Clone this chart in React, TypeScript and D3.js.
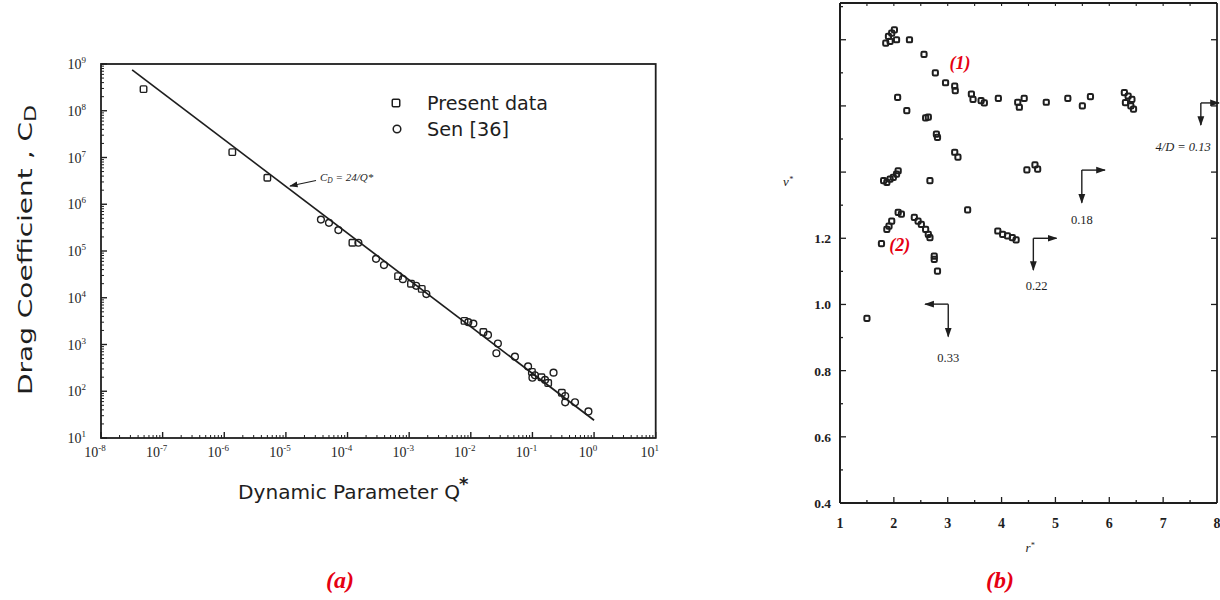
import React from "react";
import * as d3 from "d3";

// ---------- Panel (a) data ----------
const presentQ = [4.9e-8, 1.35e-6, 5.0e-6, 1.2e-4, 6.6e-4, 1.07e-3, 1.6e-3, 7.9e-3, 1.6e-2, 9.8e-2, 0.14, 0.18, 0.30];
const presentCD = [2.9e8, 1.3e7, 3.7e6, 1.5e5, 2.9e4, 2.0e4, 1.55e4, 3.2e3, 1.85e3, 2.6e2, 2.0e2, 1.5e2, 93];
const senQ = [3.7e-5, 5.0e-5, 7.1e-5, 1.5e-4, 2.9e-4, 3.9e-4, 7.9e-4, 1.3e-3, 1.9e-3, 9.1e-3, 1.1e-2, 1.9e-2, 2.75e-2, 2.6e-2, 5.2e-2, 8.5e-2, 0.11, 0.10, 0.16, 0.22, 0.34, 0.34, 0.49, 0.81];
const senCD = [4.7e5, 4.0e5, 2.8e5, 1.5e5, 6.8e4, 5.0e4, 2.5e4, 1.8e4, 1.2e4, 3.0e3, 2.8e3, 1.6e3, 1.05e3, 6.5e2, 5.5e2, 3.4e2, 2.2e2, 1.95e2, 1.75e2, 2.5e2, 79, 58, 58, 37];
const fitQRange = [3.2e-8, 1.0]; // C_D = 24/Q*
const xTickExpA = [-8, -7, -6, -5, -4, -3, -2, -1, 0, 1];
const yTickExpA = [1, 2, 3, 4, 5, 6, 7, 8, 9];

// ---------- Panel (b) data ----------
const s1R = [1.85, 1.90, 1.96, 2.01, 2.05, 1.93, 2.29, 2.56, 2.77, 2.96, 3.13, 3.14, 3.44, 3.47, 3.62, 3.68, 3.94, 4.30, 4.33, 4.42, 4.83, 5.23, 5.50, 5.65, 6.28, 6.35, 6.42, 6.30, 6.40, 6.45];
const s1V = [1.79, 1.81, 1.82, 1.83, 1.80, 1.795, 1.80, 1.756, 1.70, 1.67, 1.66, 1.646, 1.636, 1.62, 1.616, 1.609, 1.623, 1.611, 1.596, 1.623, 1.611, 1.623, 1.60, 1.628, 1.64, 1.63, 1.62, 1.61, 1.60, 1.59];
const s018R = [2.07, 2.24, 2.59, 2.64, 2.79, 2.81, 3.13, 3.19, 4.47, 4.62, 4.67];
const s018V = [1.626, 1.586, 1.564, 1.566, 1.515, 1.505, 1.46, 1.445, 1.407, 1.422, 1.409];
const s022R = [1.81, 1.87, 1.93, 1.99, 2.05, 2.08, 2.67, 3.37, 3.93, 4.02, 4.11, 4.20, 4.27];
const s022V = [1.374, 1.369, 1.379, 1.384, 1.394, 1.404, 1.374, 1.286, 1.222, 1.212, 1.207, 1.202, 1.195];
const s033R = [1.77, 1.87, 1.91, 1.96, 2.08, 2.14, 2.38, 2.45, 2.51, 2.59, 2.64, 2.67, 2.75, 2.75, 2.81, 1.50];
const s033V = [1.184, 1.227, 1.237, 1.252, 1.278, 1.273, 1.263, 1.252, 1.242, 1.227, 1.212, 1.202, 1.146, 1.136, 1.101, 0.958];
const xTicksB = [1, 2, 3, 4, 5, 6, 7, 8];
const yTickLabelsB = [0.4, 0.6, 0.8, 1.0, 1.2];
// arrows: [cornerR, cornerV, hEndR, vEndV, labelR, labelV, label]
const arrowsB: [number, number, number, number, number, number, string][] = [
  [7.70, 1.609, 8.06, 1.542, 7.37, 1.476, "4/D = 0.13"],
  [5.49, 1.406, 5.92, 1.307, 5.49, 1.255, "0.18"],
  [4.59, 1.20, 5.02, 1.104, 4.65, 1.056, "0.22"],
  [3.01, 1.001, 2.58, 0.903, 3.01, 0.838, "0.33"],
];

const INK = "#1e1e1e";
const RED = "#e60012";

function Sq({ x, y, s = 6.5, sw = 1.4 }: { x: number; y: number; s?: number; sw?: number }) {
  return <rect x={x - s / 2} y={y - s / 2} width={s} height={s} rx={1.2} fill="none" stroke={INK} strokeWidth={sw} />;
}

export default function App() {
  const xA = d3.scaleLog().domain([1e-8, 1e1]).range([101, 655.7]);
  const yA = d3.scaleLog().domain([1e1, 1e9]).range([438, 64]);
  const xB = d3.scaleLinear().domain([1, 8]).range([840, 1217]);
  const yB = d3.scaleLinear().domain([0.4, 1.911]).range([503, 3]);

  const fitLine = d3.line<number>().x((q) => xA(q)).y((q) => yA(24 / q));

  const minorA: number[] = [];
  for (let e = -8; e < 1; e++) for (let k = 2; k <= 9; k++) minorA.push(k * Math.pow(10, e));
  const minorAY: number[] = [];
  for (let e = 1; e < 9; e++) for (let k = 2; k <= 9; k++) minorAY.push(k * Math.pow(10, e));

  const yMinorB = d3.range(4, 20).map((v) => v / 10);
  const xMinorB = d3.range(2, 16).map((v) => v / 2);

  const sansFont = "'Liberation Sans Narrow', 'DejaVu Sans', sans-serif";
  const serif = "'Liberation Serif', 'DejaVu Serif', serif";

  return (
    <svg width={1220} height={600} style={{ position: "absolute", left: 0, top: 0, background: "#fff" }}>
      <defs>
        <marker id="ah" viewBox="0 0 10 10" refX="9" refY="5" markerWidth="7" markerHeight="7" orient="auto-start-reverse">
          <path d="M0,1.5 L10,5 L0,8.5 z" fill={INK} />
        </marker>
      </defs>
      {/* ================= Panel (a) ================= */}
      <g>
        <rect x={101} y={64} width={655.7 - 101} height={438 - 64} fill="none" stroke={INK} strokeWidth={1.8} />
        {yTickExpA.map((e) => (
          <line key={"ya" + e} x1={101} x2={107} y1={yA(Math.pow(10, e))} y2={yA(Math.pow(10, e))} stroke={INK} strokeWidth={1.4} />
        ))}
        {minorAY.map((v, i) => (
          <line key={"yam" + i} x1={101} x2={104} y1={yA(v)} y2={yA(v)} stroke={INK} strokeWidth={1} />
        ))}
        {xTickExpA.map((e) => (
          <line key={"xa" + e} x1={xA(Math.pow(10, e))} x2={xA(Math.pow(10, e))} y1={438} y2={432} stroke={INK} strokeWidth={1.4} />
        ))}
        {minorA.map((v, i) => (
          <line key={"xam" + i} x1={xA(v)} x2={xA(v)} y1={438} y2={435} stroke={INK} strokeWidth={1} />
        ))}
        {yTickExpA.map((e) => (
          <text key={"yl" + e} x={86} y={yA(Math.pow(10, e)) + 5} textAnchor="end" fontFamily={serif} fontSize={14} fill={INK}>
            10
            <tspan dy={-6} fontSize={9}>{e}</tspan>
          </text>
        ))}
        {xTickExpA.map((e) => (
          <text key={"xl" + e} x={xA(Math.pow(10, e)) - 6} y={457} textAnchor="middle" fontFamily={serif} fontSize={14} fill={INK}>
            10
            <tspan dy={-6} fontSize={9}>{e === 0 || e === 1 ? String(e) : "-" + Math.abs(e)}</tspan>
          </text>
        ))}
        <path d={fitLine([fitQRange[0], fitQRange[1]]) || ""} fill="none" stroke={INK} strokeWidth={1.7} />
        {senQ.map((q, i) => (
          <circle key={"sen" + i} cx={xA(q)} cy={yA(senCD[i])} r={3.4} fill="none" stroke={INK} strokeWidth={1.4} />
        ))}
        {presentQ.map((q, i) => (
          <Sq key={"pr" + i} x={xA(q)} y={yA(presentCD[i])} s={6.5} sw={1.4} />
        ))}
        <line x1={316} y1={180.5} x2={290} y2={186} stroke={INK} strokeWidth={1.2} markerEnd="url(#ah)" />
        <text x={320} y={181} fontFamily={serif} fontStyle="italic" fontSize={11} fill={INK}>
          C<tspan dy={2} fontSize={7.5}>D</tspan>
          <tspan dy={-2}> = 24/Q*</tspan>
        </text>
        <Sq x={396} y={103} s={7.5} sw={1.5} />
        <circle cx={397} cy={129} r={3.8} fill="none" stroke={INK} strokeWidth={1.5} />
        <text x={427} y={110} fontFamily={sansFont} fontSize={19} fill={INK} textLength={121} lengthAdjust="spacingAndGlyphs">Present data</text>
        <text x={427} y={136} fontFamily={sansFont} fontSize={19} fill={INK} textLength={82} lengthAdjust="spacingAndGlyphs">Sen [36]</text>
        <text x={238} y={499} fontFamily={sansFont} fontSize={19} fill={INK} textLength={222} lengthAdjust="spacingAndGlyphs">Dynamic  Parameter  Q</text>
        <text x={459} y={490} fontFamily={sansFont} fontSize={18} fontWeight="bold" fill={INK}>*</text>
        <g transform="translate(32,250) rotate(-90)">
          <text x={0} y={0} textAnchor="middle" fontFamily={sansFont} fontSize={19} fill={INK} textLength={290} lengthAdjust="spacingAndGlyphs">
            Drag  Coefficient ,  C<tspan fontSize={15} dy={4}>D</tspan>
          </text>
        </g>
        <text x={340} y={588} textAnchor="middle" fontFamily={serif} fontStyle="italic" fontWeight="bold" fontSize={24} fill={RED}>(a)</text>
      </g>

      {/* ================= Panel (b) ================= */}
      <g>
        <line x1={840} x2={1217} y1={3} y2={3} stroke={INK} strokeWidth={2.2} />
        <line x1={840} x2={840} y1={3} y2={503} stroke={INK} strokeWidth={2} />
        <line x1={840} x2={1217} y1={503} y2={503} stroke={INK} strokeWidth={2} />
        <line x1={1217} x2={1217} y1={3} y2={503} stroke={INK} strokeWidth={1.8} />
        {yMinorB.map((v, i) => (
          <line key={"ybm" + i} x1={840} x2={(Math.round(v * 10) % 2 === 0) ? 846 : 843} y1={yB(v)} y2={yB(v)} stroke={INK} strokeWidth={1.3} />
        ))}
        {yMinorB.filter((v) => Math.round(v * 10) % 2 === 0).map((v, i) => (
          <line key={"ybr" + i} x1={1217} x2={1211} y1={yB(v)} y2={yB(v)} stroke={INK} strokeWidth={1.3} />
        ))}
        {xMinorB.map((v, i) => (
          <line key={"xbm" + i} x1={xB(v)} x2={xB(v)} y1={503} y2={Number.isInteger(v) ? 497 : 500} stroke={INK} strokeWidth={1.3} />
        ))}
        {xMinorB.map((v, i) => (
          <line key={"xbt" + i} x1={xB(v)} x2={xB(v)} y1={3} y2={6} stroke={INK} strokeWidth={1.1} />
        ))}
        {xTicksB.map((v) => (
          <text key={"xbl" + v} x={xB(v)} y={528} textAnchor="middle" fontFamily={serif} fontWeight="bold" fontSize={14} fill={INK}>{v}</text>
        ))}
        {yTickLabelsB.map((v) => (
          <text key={"ybl" + v} x={831} y={yB(v) + 5} textAnchor="end" fontFamily={serif} fontWeight="bold" fontSize={13.5} fill={INK}>{v.toFixed(1)}</text>
        ))}
        <text x={788} y={186} textAnchor="middle" fontFamily={serif} fontStyle="italic" fontSize={13} fill={INK}>v<tspan dy={-4} fontSize={8}>*</tspan></text>
        <text x={1030} y={552} textAnchor="middle" fontFamily={serif} fontStyle="italic" fontSize={13} fill={INK}>r<tspan dy={-4} fontSize={8}>*</tspan></text>
        {[
          [s1R, s1V],
          [s018R, s018V],
          [s022R, s022V],
          [s033R, s033V],
        ].map(([rs, vs], si) =>
          (rs as number[]).map((r, i) => <Sq key={"b" + si + "_" + i} x={xB(r)} y={yB((vs as number[])[i])} s={5.2} sw={2} />)
        )}
        {arrowsB.map(([cr, cv, hr, vv, lr, lv, lab], i) => (
          <g key={"ar" + i}>
            <line x1={xB(cr)} y1={yB(cv)} x2={Math.min(xB(hr), 1219)} y2={yB(cv)} stroke={INK} strokeWidth={1.4} markerEnd="url(#ah)" />
            <line x1={xB(cr)} y1={yB(cv)} x2={xB(cr)} y2={yB(vv)} stroke={INK} strokeWidth={1.4} markerEnd="url(#ah)" />
            <text x={xB(lr)} y={yB(lv) + 4} textAnchor="middle" fontFamily={serif} fontSize={12.5} fill={INK} fontStyle={i === 0 ? "italic" : "normal"}>{lab}</text>
          </g>
        ))}
        <text x={xB(3.23)} y={yB(1.73) + 6} textAnchor="middle" fontFamily={serif} fontStyle="italic" fontWeight="bold" fontSize={18} fill={RED}>(1)</text>
        <text x={xB(2.11)} y={yB(1.18) + 6} textAnchor="middle" fontFamily={serif} fontStyle="italic" fontWeight="bold" fontSize={18} fill={RED}>(2)</text>
        <text x={1000} y={588} textAnchor="middle" fontFamily={serif} fontStyle="italic" fontWeight="bold" fontSize={24} fill={RED}>(b)</text>
      </g>
    </svg>
  );
}
